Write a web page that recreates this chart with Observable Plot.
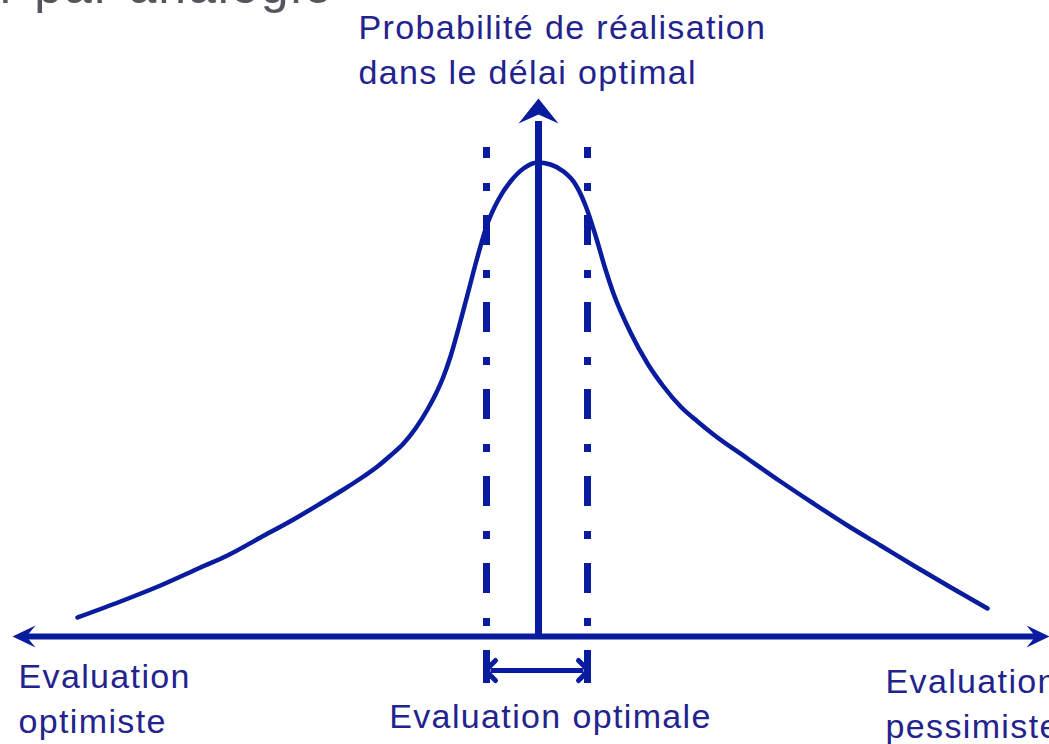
<!DOCTYPE html>
<html><head><meta charset="utf-8">
<script src="https://cdn.jsdelivr.net/npm/d3@7"></script>
<script src="https://cdn.jsdelivr.net/npm/@observablehq/plot@0.6"></script>
<style>
html,body{margin:0;padding:0;background:#fff;}
#chart svg{display:block;}
#chart svg text{letter-spacing:0.04em;}
</style></head><body><div id="chart"></div>
<script>
// Delay relative to the optimal estimate (x) and probability of completion (y)
const delay = [-46.1,-41.8,-37.8,-33.8,-31.1,-27.8,-24.5,-21.8,-19.5,-17.5,-16.1,-14.8,-13.5,-12.3,-11.1,
  -10.3,-9.5,-8.8,-8.0,-7.2,-6.2,-5.1,-4.0,-2.8,-1.5,-0.1,
  1.2,2.5,3.7,4.7,5.7,6.7,7.5,9.2,10.9,12.5,14.2,15.9,17.5,20.9,24.2,27.5,30.9,34.2,37.5,40.9,44.9];
const probability = [1.9,3.5,5.1,6.9,8.1,9.9,11.7,13.3,14.7,16.0,17.0,18.1,19.3,20.8,22.7,
  24.2,26.0,28.0,30.8,33.8,37.6,41.3,43.7,45.5,46.8,47.4,
  47.2,46.5,45.2,43.1,40.1,36.7,34.3,30.4,27.3,25.0,23.0,21.5,20.2,17.8,15.5,13.3,11.1,9.1,7.1,5.1,2.8];
const optimalWindow = [-5.2, 4.9];
const axisTitle = "Probabilité de réalisation\ndans le délai optimal";
const optimisticLabel = "Evaluation\noptimiste";
const optimalLabel = "Evaluation optimale";
const pessimisticLabel = "Evaluation\npessimiste";
const headerText = "Estimer par analogie";

const curve = delay.map((d, i) => ({delay: d, probability: probability[i]}));

const lineColor = "#0a1c9e";
const textColor = "#23238e";
const font = "Liberation Sans, Arial, sans-serif";

function arrowSymbol(halfWidth, length, notch) {
  return {draw(ctx) {
    ctx.moveTo(0, 0);
    ctx.lineTo(halfWidth, length);
    ctx.lineTo(0, notch);
    ctx.lineTo(-halfWidth, length);
    ctx.closePath();
  }};
}

const xDomain = [-53.8, 51.1];
const yDomain = [-10.8, 63.6];
const heads = [
  {x: xDomain[0] + 1.2, y: 0, rotate: -90},
  {x: xDomain[1], y: 0, rotate: 90}
];

const chart = Plot.plot({
  width: 1049, height: 744,
  marginTop: 0, marginRight: 0, marginBottom: 0, marginLeft: 0,
  x: {domain: xDomain, axis: null},
  y: {domain: yDomain, axis: null},
  style: {fontFamily: font, background: "#fff"},
  marks: [
    // optimal window (dash-dot)
    Plot.ruleX(optimalWindow, {y1: 48.9, y2: 1.0, stroke: lineColor, strokeWidth: 7,
      strokeDasharray: "30,25,8,24", strokeDashoffset: 19, strokeLinecap: "butt"}),
    // axes
    Plot.ruleY([0], {x1: xDomain[0] + 2, x2: xDomain[1] - 1, stroke: lineColor, strokeWidth: 6}),
    Plot.ruleX([0], {y1: 0, y2: 51.5, stroke: lineColor, strokeWidth: 7}),
    Plot.dot(heads, {x: "x", y: "y", rotate: "rotate", symbol: arrowSymbol(11, 23, 14), fill: lineColor, stroke: "none"}),
    Plot.dot([{x: 0, y: 53.8}], {x: "x", y: "y", symbol: arrowSymbol(20, 25, 16), fill: lineColor, stroke: "none"}),
    // distribution curve
    Plot.line(curve, {x: "delay", y: "probability", curve: "monotone-x", stroke: lineColor, strokeWidth: 4.5, strokeLinecap: "round"}),
    // optimal window bracket
    Plot.ruleX(optimalWindow, {y1: -1.4, y2: -4.7, stroke: lineColor, strokeWidth: 7}),
    Plot.link([optimalWindow], {x1: d => d[0] + 0.4, x2: d => d[1] - 0.4, y1: -3.4, y2: -3.4,
      stroke: lineColor, strokeWidth: 5, markerStart: "arrow-reverse", markerEnd: "arrow"}),
    // labels
    Plot.text([axisTitle], {x: -18.0, y: 55.3, text: d => d, textAnchor: "start", lineAnchor: "bottom",
      lineHeight: 1.32, fontSize: 34, fill: textColor}),
    Plot.text([optimisticLabel], {x: -52.0, y: -9.6, text: d => d, textAnchor: "start", lineAnchor: "bottom",
      lineHeight: 1.32, fontSize: 34, fill: textColor}),
    Plot.text([optimalLabel], {x: 1.2, y: -9.1, text: d => d, textAnchor: "middle", lineAnchor: "bottom",
      fontSize: 34, fill: textColor}),
    Plot.text([pessimisticLabel], {x: 34.7, y: -10.1, text: d => d, textAnchor: "start", lineAnchor: "bottom",
      lineHeight: 1.32, fontSize: 34, fill: textColor}),
    Plot.text([headerText], {x: -20.5, y: 63.35, text: d => d, textAnchor: "end", lineAnchor: "bottom",
      fontSize: 50, fill: "#55555f"})
  ]
});
document.getElementById("chart").appendChild(chart);
</script></body></html>
